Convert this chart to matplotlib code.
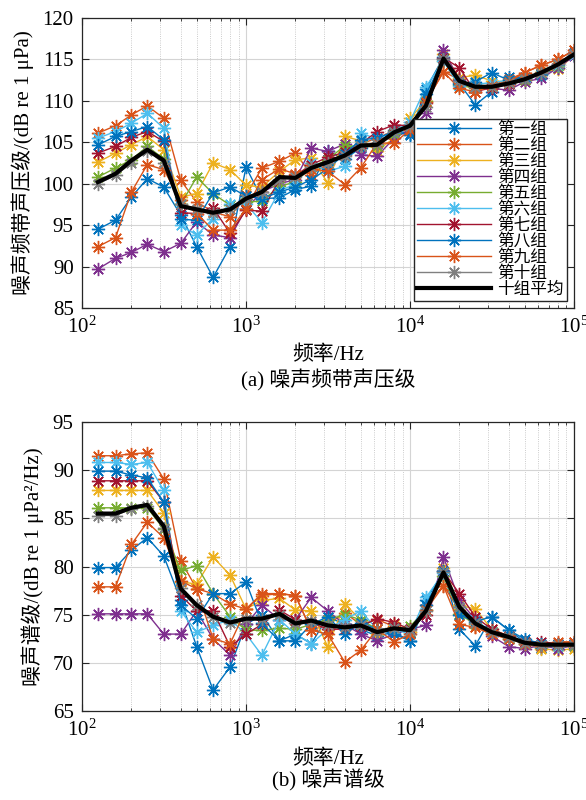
import numpy as np
import matplotlib
matplotlib.use("Agg")
import matplotlib.pyplot as plt
from matplotlib.ticker import LogLocator, NullFormatter

plt.rcParams['font.family'] = ['Liberation Serif', 'Noto Sans CJK SC']
plt.rcParams['mathtext.fontset'] = 'custom'
plt.rcParams['mathtext.rm'] = 'Liberation Serif'
plt.rcParams['axes.unicode_minus'] = False

# 1/3 octave band centre frequencies
freq = [125, 160, 200, 250, 315, 400, 500, 630, 800, 1000, 1250, 1600, 2000, 2500, 3150,
        4000, 5000, 6300, 8000, 10000, 12500, 16000, 20000, 25000, 31500, 40000, 50000,
        63000, 80000, 100000]

labels = ["第一组", "第二组", "第三组", "第四组", "第五组", "第六组", "第七组", "第八组", "第九组", "第十组"]
mean_label = "十组平均"

# (a) band sound pressure level
top_g1 = [94.5, 95.6, 98.4, 100.6, 99.6, 96.2, 92.4, 88.7, 92.4, 102.0, 98.2, 98.3, 99.3, 99.7, 103.9, 103.0, 104.3, 104.8, 106.5, 106.0, 111.4, 115.3, 112.1, 109.5, 111.1, 112.9, 112.8, 113.1, 114.0, 115.5]
top_g2 = [106.1, 107.0, 108.3, 109.4, 107.9, 100.4, 97.8, 96.6, 96.0, 98.6, 101.9, 102.7, 103.7, 101.1, 102.4, 103.5, 104.8, 105.5, 106.4, 106.6, 109.9, 113.5, 112.6, 111.1, 111.9, 112.6, 113.4, 114.3, 115.0, 116.1]
top_g3 = [102.6, 103.7, 104.7, 105.7, 104.1, 98.4, 98.8, 102.5, 101.7, 99.8, 99.6, 101.5, 102.9, 103.1, 100.1, 105.7, 105.2, 104.0, 105.5, 107.9, 110.0, 115.7, 112.8, 113.1, 112.4, 112.3, 112.6, 113.5, 113.8, 115.5]
top_g4 = [89.7, 91.0, 91.7, 92.7, 91.8, 92.8, 95.4, 93.8, 93.5, 97.0, 99.0, 100.0, 100.5, 104.3, 103.9, 104.8, 103.5, 103.3, 105.5, 106.5, 108.5, 116.1, 112.5, 111.8, 111.5, 111.3, 112.3, 112.7, 114.0, 115.4]
top_g5 = [100.8, 101.9, 102.9, 104.5, 103.0, 97.5, 100.8, 98.8, 97.4, 97.8, 97.9, 99.7, 100.2, 102.0, 102.9, 104.6, 104.5, 104.6, 106.0, 107.0, 110.0, 114.8, 111.9, 111.5, 111.8, 112.0, 112.5, 113.3, 114.2, 115.6]
top_g6 = [105.5, 106.3, 107.3, 108.5, 106.7, 95.0, 93.8, 95.8, 97.5, 97.6, 95.3, 99.1, 100.0, 102.5, 101.5, 102.1, 106.1, 105.4, 106.3, 107.5, 111.7, 114.8, 111.8, 112.0, 112.2, 112.5, 112.8, 113.4, 114.3, 115.5]
top_g7 = [103.7, 104.5, 105.6, 106.3, 105.1, 96.5, 96.4, 97.1, 94.0, 96.8, 96.7, 100.5, 101.0, 102.3, 103.2, 103.8, 104.8, 106.3, 107.1, 107.0, 109.8, 115.2, 114.0, 111.1, 111.6, 112.0, 112.6, 113.4, 114.5, 115.8]
top_g8 = [104.7, 105.7, 106.3, 106.9, 105.3, 95.7, 95.6, 98.9, 99.6, 98.5, 98.2, 99.0, 99.6, 100.5, 101.8, 103.6, 105.3, 105.5, 106.3, 105.9, 110.8, 115.0, 112.0, 112.3, 113.4, 112.5, 112.9, 113.3, 114.5, 115.8]
top_g9 = [92.4, 93.5, 99.0, 102.3, 101.7, 98.0, 96.4, 94.4, 94.4, 97.0, 100.5, 101.8, 101.2, 101.8, 101.5, 99.9, 101.9, 104.9, 104.9, 106.5, 109.9, 113.5, 111.5, 111.1, 111.8, 112.3, 113.4, 114.3, 115.0, 116.1]
top_g10 = [100.0, 101.0, 102.5, 104.0, 102.5, 97.5, 97.0, 96.5, 97.0, 98.2, 99.0, 100.5, 100.8, 102.0, 102.5, 103.4, 104.5, 104.8, 106.2, 107.0, 109.3, 115.0, 112.4, 111.7, 111.7, 112.1, 112.6, 113.4, 114.4, 115.6]
top_mean = [100.2, 101.2, 102.8, 104.1, 102.8, 97.3, 96.9, 96.5, 96.9, 98.2, 99.0, 100.8, 100.7, 101.9, 102.6, 103.4, 104.6, 104.7, 106.2, 107.0, 109.4, 115.1, 112.4, 111.7, 111.7, 112.1, 112.6, 113.4, 114.4, 115.6]

# (b) spectrum level
bot_g1 = [79.9, 79.9, 81.7, 83.0, 81.1, 76.5, 71.7, 67.2, 69.6, 74.0, 75.0, 72.3, 73.0, 72.0, 74.8, 74.0, 73.5, 72.8, 73.2, 72.3, 76.5, 79.5, 73.5, 71.8, 74.8, 73.4, 72.2, 71.6, 71.8, 72.0]
bot_g2 = [91.5, 91.5, 91.7, 91.8, 89.1, 80.6, 77.7, 77.2, 76.1, 75.6, 77.0, 77.2, 77.0, 73.4, 74.0, 75.2, 74.0, 74.5, 73.8, 73.2, 76.0, 78.0, 75.5, 73.7, 73.0, 72.5, 72.2, 71.8, 72.0, 72.2]
bot_g3 = [87.9, 87.9, 87.9, 87.9, 85.6, 78.4, 78.2, 81.0, 79.1, 75.6, 76.5, 76.7, 75.5, 75.4, 71.7, 76.1, 74.5, 73.0, 74.0, 73.2, 75.5, 79.9, 76.0, 75.6, 73.5, 72.8, 72.0, 71.5, 71.3, 71.5]
bot_g4 = [75.1, 75.1, 75.1, 75.1, 73.0, 73.0, 75.4, 72.5, 70.8, 74.0, 76.0, 74.5, 74.5, 76.8, 75.4, 74.0, 73.0, 72.3, 73.0, 73.5, 73.9, 81.0, 76.5, 74.5, 72.8, 71.7, 71.5, 71.8, 71.5, 71.8]
bot_g5 = [86.1, 86.1, 86.1, 86.1, 83.9, 79.6, 80.1, 77.2, 74.8, 73.4, 73.4, 73.6, 73.5, 74.0, 74.5, 75.0, 74.5, 73.5, 73.5, 73.8, 75.5, 79.0, 75.1, 74.0, 73.3, 72.6, 72.0, 71.8, 71.8, 71.8]
bot_g6 = [90.8, 90.8, 90.6, 90.8, 87.9, 75.4, 73.2, 73.9, 74.5, 73.0, 70.8, 74.5, 73.0, 72.0, 73.5, 74.5, 75.4, 73.5, 73.5, 73.0, 76.8, 79.3, 75.8, 74.5, 73.2, 72.5, 72.0, 71.8, 71.8, 72.0]
bot_g7 = [88.9, 88.9, 88.9, 88.9, 86.7, 77.0, 75.4, 75.4, 71.7, 73.0, 74.0, 75.5, 74.5, 74.2, 73.5, 73.5, 73.8, 74.6, 74.2, 73.5, 75.0, 79.5, 77.2, 74.8, 73.5, 72.8, 72.2, 72.2, 72.0, 72.0]
bot_g8 = [89.9, 89.9, 89.5, 89.2, 86.7, 76.0, 74.6, 77.2, 77.2, 78.4, 74.1, 72.3, 72.3, 74.0, 74.8, 73.0, 74.2, 73.5, 73.0, 72.3, 76.0, 79.5, 75.0, 74.3, 74.8, 73.4, 72.5, 72.0, 72.0, 72.0]
bot_g9 = [77.9, 77.9, 82.3, 84.6, 83.0, 78.5, 77.7, 72.5, 72.0, 75.6, 77.2, 77.2, 77.0, 73.4, 73.0, 70.1, 71.3, 73.5, 72.2, 73.0, 75.5, 78.0, 74.0, 73.7, 73.0, 72.5, 72.0, 71.8, 72.2, 72.2]
bot_g10 = [85.3, 85.3, 86.0, 86.3, 84.0, 77.8, 76.0, 74.8, 74.2, 74.6, 74.6, 75.0, 74.1, 74.4, 73.9, 73.7, 73.9, 73.2, 73.6, 73.4, 75.4, 79.4, 75.8, 74.1, 73.2, 72.7, 72.1, 71.9, 71.9, 71.9]
bot_mean = [85.5, 85.5, 86.1, 86.4, 84.2, 77.7, 76.0, 74.8, 74.2, 74.6, 74.6, 75.1, 74.1, 74.4, 73.9, 73.7, 73.9, 73.2, 73.6, 73.4, 75.4, 79.4, 75.8, 74.1, 73.2, 72.7, 72.1, 71.9, 71.9, 71.9]

colors = ['#0072BD', '#D95319', '#EDB120', '#7E2F8E', '#77AC30',
          '#4DBEEE', '#A2142F', '#0072BD', '#D95319', '#808080']

top_series = [top_g1, top_g2, top_g3, top_g4, top_g5, top_g6, top_g7, top_g8, top_g9, top_g10]
bot_series = [bot_g1, bot_g2, bot_g3, bot_g4, bot_g5, bot_g6, bot_g7, bot_g8, bot_g9, bot_g10]

star = (8, 2, 0)


def draw_panel(ax, series, mean, ylim, ylabel, legend=False):
    for i, s in enumerate(series):
        ax.plot(freq, s, color=colors[i], lw=1.0, marker=star, ms=9.5, mew=1.0, label=labels[i])
    ax.plot(freq, mean, color='black', lw=3.0, label=mean_label)
    ax.set_xscale('log')
    ax.set_xlim(100, 100000)
    ax.set_ylim(*ylim)
    ax.set_yticks(np.arange(ylim[0], ylim[1] + 1, 5))
    ax.xaxis.set_major_locator(LogLocator(base=10, numticks=10))
    ax.xaxis.set_minor_locator(LogLocator(base=10, subs=np.arange(2, 10), numticks=20))
    ax.xaxis.set_minor_formatter(NullFormatter())
    ax.grid(True, which='major', color='#d4d4d4', lw=0.8, ls='-')
    ax.grid(True, which='minor', axis='x', color='#bbbbbb', lw=0.6, ls=':')
    ax.set_axisbelow(True)
    ax.tick_params(which='both', direction='in', top=True, right=True, labelsize=15,
                   color='#262626')
    ax.tick_params(which='major', length=5, pad=6)
    ax.tick_params(which='minor', length=2.5)
    for sp in ax.spines.values():
        sp.set_color('#262626')
        sp.set_linewidth(0.9)
    ax.set_xlabel('频率/Hz', fontsize=15, labelpad=6)
    ax.set_ylabel(ylabel, fontsize=15, labelpad=6)
    if legend:
        ax.legend(loc='lower right', fontsize=12, handlelength=4.4, labelspacing=0.0,
                  borderpad=0.2, handletextpad=0.4, borderaxespad=0.4, framealpha=1,
                  edgecolor='#262626', fancybox=False)


fig = plt.figure(figsize=(5.86, 8.0), dpi=100)
ax1 = fig.add_axes([0.140, 0.615, 0.8395, 0.3625])
ax2 = fig.add_axes([0.140, 0.111, 0.8395, 0.3615])

draw_panel(ax1, top_series, top_mean, (85, 120), '噪声频带声压级/(dB re 1 μPa)', legend=True)
draw_panel(ax2, bot_series, bot_mean, (65, 95), '噪声谱级/(dB re 1 μPa²/Hz)')

fig.text(0.56, 0.525, '(a) 噪声频带声压级', ha='center', va='center', fontsize=15)
fig.text(0.56, 0.024, '(b) 噪声谱级', ha='center', va='center', fontsize=15)

fig.savefig('out.png', dpi=100)
